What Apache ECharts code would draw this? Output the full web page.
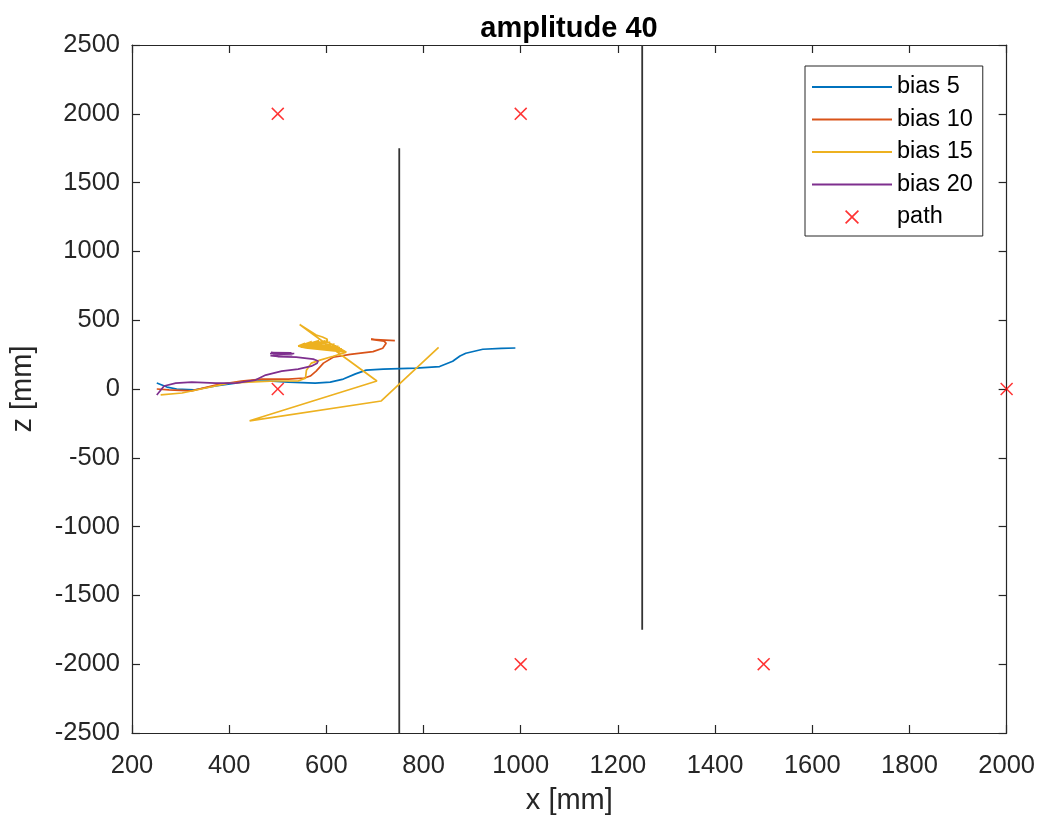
<!DOCTYPE html>
<html>
<head>
<meta charset="utf-8">
<script src="https://cdn.jsdelivr.net/npm/echarts@6/dist/echarts.min.js"></script>
<style>html,body{margin:0;padding:0;background:#fff;overflow:hidden}#c{width:1038px;height:820px}</style>
</head>
<body>
<div id="c"></div>
<script>
const titleText = 'amplitude 40';
const xName = 'x [mm]';
const yName = 'z [mm]';
const xTicks = [200, 400, 600, 800, 1000, 1200, 1400, 1600, 1800, 2000];
const yTicks = [-2500, -2000, -1500, -1000, -500, 0, 500, 1000, 1500, 2000, 2500];

const bias5 = [[251,43],[272,14],[292,0],[327,-7],[372,22],[413,43],[440,58],[481,58],[522,50],[577,43],[608,50],[635,72],[660,110],[682,137],[717,144],[784,151],[833,163],[860,202],[875,240],[887,260],[922,289],[960,295],[989,298]];
const bias10 = [[251,0],[276,-7],[323,-14],[372,29],[425,58],[467,72],[522,72],[555,80],[567,94],[579,130],[594,188],[614,231],[649,252],[696,272],[716,296],[723,332],[719,348],[692,361],[741,352]];
const bias15 = [[259,-43],[303,-29],[352,7],[399,43],[440,50],[495,58],[542,58],[557,79],[559,137],[569,188],[587,210],[614,238],[641,267],
  [542,312],[556,332],[543,310],[570,344],[544,309],[585,352],[545,308],[598,350],[546,307],[608,340],[547,306],[617,325],[548,305],[625,308],[549,304],[632,292],[550,303],[638,278],[551,302],[641,268],[552,300],[620,278],[550,305],[600,287],[548,308],[575,296],[546,310],[560,325],[545,312],[580,345],[550,308],[604,346],[555,305],[628,300],[560,300],[641,268],[600,346],
  [602,362],[592,378],[579,392],[545,469],[704,58],[442,-231],[713,-87],[831,303]];
const bias20 = [[251,-43],[266,22],[290,43],[323,50],[372,43],[413,43],[454,65],[475,101],[508,130],[542,144],[569,166],[581,188],[583,204],[573,217],[538,231],[500,236],[485,242],[488,252],[532,255],[484,258],[528,262],[486,265],[530,250],[490,255],[534,258]];
const pathPts = [[500,2000],[1000,2000],[500,0],[2000,0],[1000,-2000],[1500,-2000]];
const wall1 = [[750,-2500],[750,1750]];
const wall2 = [[1250,2500],[1250,-1750]];

const seriesNames = ['bias 5','bias 10','bias 15','bias 20','path'];
const seriesColors = ['#0072BD','#D95319','#EDB120','#7E2F8E','#FF0000'];

const FONT = 'Liberation Sans, Arial, Helvetica, sans-serif';
const AX = '#262626';
const xMark = 'path://M0,1L1,0L6,5L11,0L12,1L7,6L12,11L11,12L6,7L1,12L0,11L5,6Z';
const lineIcon = 'path://M0,0L80,0L80,2L0,2Z';

const chart = echarts.init(document.getElementById('c'), null, {renderer:'canvas', width:1038, height:820});

function lineSeries(name, data, color) {
  return {name, type:'line', data, showSymbol:false, symbol:'none', xAxisIndex:0, yAxisIndex:0,
    lineStyle:{color, width:1.7}, itemStyle:{color}, animation:false, z:3};
}
const fmt = v => String(v);

const option = {
  animation:false,
  backgroundColor:'#fff',
  title:{text:titleText, left:564, textAlign:'center', top:9,
    textStyle:{fontFamily:FONT, fontSize:29, fontWeight:'bold', color:'#000'}},
  grid:{left:129, right:27, top:45, bottom:83, containLabel:false},
  legend:{
    orient:'vertical', left:805, top:66,
    data: seriesNames.map((n,i)=> i===4 ? {name:n, icon:xMark} : {name:n, icon:lineIcon}),
    itemWidth:80, itemHeight:14, itemGap:8.5,
    symbolKeepAspect:true,
    padding:[9,10,7,7],
    borderColor:AX, borderWidth:1, backgroundColor:'#fff',
    textStyle:{fontFamily:FONT, fontSize:23.5, color:'#000'}
  },
  xAxis:[
    {type:'value', min:xTicks[0], max:xTicks[xTicks.length-1], interval:xTicks[1]-xTicks[0], position:'bottom',
     name:xName, nameLocation:'middle', nameGap:53,
     nameTextStyle:{fontFamily:FONT, fontSize:29, color:AX},
     axisLine:{show:true, onZero:false, lineStyle:{color:AX, width:1.2}},
     axisTick:{show:true, inside:true, length:8, lineStyle:{color:AX, width:1.2}},
     axisLabel:{fontFamily:FONT, fontSize:25.5, color:AX, margin:20, formatter:fmt},
     splitLine:{show:false}},
    {type:'value', min:xTicks[0], max:xTicks[xTicks.length-1], interval:xTicks[1]-xTicks[0], position:'top',
     axisLine:{show:true, onZero:false, lineStyle:{color:AX, width:1.2}},
     axisTick:{show:true, inside:true, length:8, lineStyle:{color:AX, width:1.2}},
     axisLabel:{show:false}, splitLine:{show:false}}
  ],
  yAxis:[
    {type:'value', min:yTicks[0], max:yTicks[yTicks.length-1], interval:yTicks[1]-yTicks[0], position:'left',
     name:yName, nameLocation:'middle', nameGap:95, nameRotate:90,
     nameTextStyle:{fontFamily:FONT, fontSize:29, color:AX},
     axisLine:{show:true, onZero:false, lineStyle:{color:AX, width:1.2}},
     axisTick:{show:true, inside:true, length:8, lineStyle:{color:AX, width:1.2}},
     axisLabel:{fontFamily:FONT, fontSize:25.5, color:AX, margin:12, formatter:fmt},
     splitLine:{show:false}},
    {type:'value', min:yTicks[0], max:yTicks[yTicks.length-1], interval:yTicks[1]-yTicks[0], position:'right',
     axisLine:{show:true, onZero:false, lineStyle:{color:AX, width:1.2}},
     axisTick:{show:true, inside:true, length:8, lineStyle:{color:AX, width:1.2}},
     axisLabel:{show:false}, splitLine:{show:false}}
  ],
  series:[
    {name:'wall1', type:'line', data:wall1, showSymbol:false, symbol:'none', lineStyle:{color:'#333', width:1.8}, z:2},
    {name:'wall2', type:'line', data:wall2, showSymbol:false, symbol:'none', lineStyle:{color:'#333', width:1.8}, z:2},
    lineSeries(seriesNames[0], bias5, seriesColors[0]),
    lineSeries(seriesNames[1], bias10, seriesColors[1]),
    lineSeries(seriesNames[2], bias15, seriesColors[2]),
    lineSeries(seriesNames[3], bias20, seriesColors[3]),
    {name:seriesNames[4], type:'scatter', data:pathPts, symbol:xMark, symbolSize:13,
     itemStyle:{color:seriesColors[4]}, z:4}
  ]
};
chart.setOption(option);
</script>
</body>
</html>
